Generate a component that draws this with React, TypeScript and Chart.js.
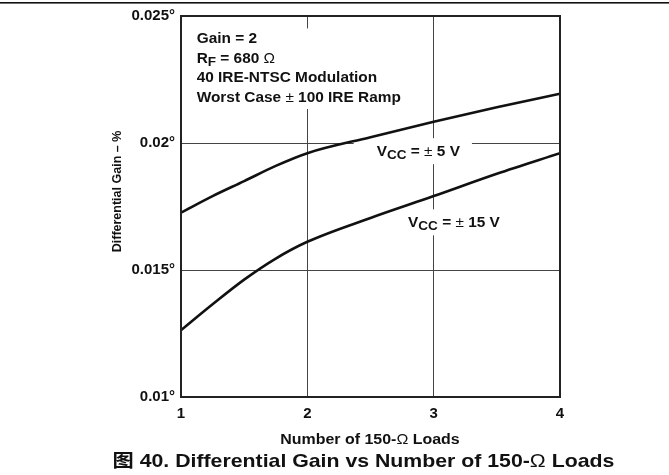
import React, { useEffect, useRef } from "react";
import { Chart, registerables } from "chart.js";

Chart.register(...registerables);

// ---- data ----
const loads = [1, 1.25, 1.5, 1.75, 2, 2.5, 3, 3.5, 4];
const gainVcc5 = [0.01726, 0.01791, 0.0185, 0.0191, 0.0196, 0.02023, 0.02084, 0.02141, 0.02194];
const gainVcc15 = [0.01263, 0.01365, 0.01462, 0.01545, 0.01611, 0.01705, 0.01791, 0.01879, 0.0196];

const xTickValues = [1, 2, 3, 4];
const xTickLabels = ["1", "2", "3", "4"];
const yTickValues = [0.01, 0.015, 0.02, 0.025];
const yTickLabels = ["0.01°", "0.015°", "0.02°", "0.025°"];

type Seg = { t: string; sub?: boolean; light?: boolean; cjk?: boolean };

const xTitle: Seg[] = [{ t: "Number of 150-" }, { t: "Ω", light: true }, { t: " Loads" }];
const yTitle = "Differential Gain – %";
const caption: Seg[] = [
  { t: "图", cjk: true },
  { t: " 40. Differential Gain vs Number of 150-" },
  { t: "Ω", light: true },
  { t: " Loads" },
];
const conditionLines: Seg[][] = [
  [{ t: "Gain = 2" }],
  [{ t: "R" }, { t: "F", sub: true }, { t: " = 680 " }, { t: "Ω", light: true }],
  [{ t: "40 IRE-NTSC Modulation" }],
  [{ t: "Worst Case " }, { t: "±", light: true }, { t: " 100 IRE Ramp" }],
];
const conditionAnchor = { x: 1.124, y: 0.02394 };
const seriesLabels: { segs: Seg[]; x: number; y: number }[] = [
  { segs: [{ t: "V" }, { t: "CC", sub: true }, { t: " = " }, { t: "±", light: true }, { t: " 5 V" }], x: 2.549, y: 0.0195 },
  { segs: [{ t: "V" }, { t: "CC", sub: true }, { t: " = " }, { t: "±", light: true }, { t: " 15 V" }], x: 2.797, y: 0.0167 },
];

const FAMILY = '"Liberation Sans", Arial, Helvetica, sans-serif';
const CJK = '"Noto Sans CJK SC", "Liberation Sans", sans-serif';
const INK = "#111";

function segFont(s: Seg, size: number) {
  const sz = s.sub ? size * 0.88 : size;
  const w = s.light ? "normal" : "bold";
  return `${w} ${sz}px ${s.cjk ? CJK : FAMILY}`;
}

function richWidth(ctx: CanvasRenderingContext2D, segs: Seg[], size: number, sx: number) {
  let w = 0;
  for (const s of segs) {
    ctx.font = segFont(s, size);
    w += ctx.measureText(s.t).width * sx;
  }
  return w;
}

function drawRich(ctx: CanvasRenderingContext2D, segs: Seg[], x: number, y: number, size: number, sx: number) {
  let cx = x;
  ctx.textAlign = "left";
  ctx.textBaseline = "alphabetic";
  ctx.fillStyle = INK;
  for (const s of segs) {
    ctx.font = segFont(s, size);
    const w = ctx.measureText(s.t).width;
    ctx.save();
    ctx.translate(cx, y + (s.sub ? size * 0.24 : 0));
    ctx.scale(sx, 1);
    ctx.fillText(s.t, 0, 0);
    ctx.restore();
    cx += w * sx;
  }
  return cx - x;
}

const ANN_SIZE = 14;
const ANN_SX = 1.1;
const LABEL_SIZE = 14;
const LINE_GAP = 19.7;

const decorPlugin = {
  id: "decor",
  beforeDatasetsDraw(chart: any) {
    const ctx: CanvasRenderingContext2D = chart.ctx;
    const xs = chart.scales.x;
    const ys = chart.scales.y;
    ctx.save();
    ctx.fillStyle = "#fff";
    // conditions box
    const ax = xs.getPixelForValue(conditionAnchor.x);
    const ay = ys.getPixelForValue(conditionAnchor.y);
    let maxW = 0;
    for (const line of conditionLines) maxW = Math.max(maxW, richWidth(ctx, line, ANN_SIZE, ANN_SX));
    ctx.fillRect(ax - 6, ay - 14.5, maxW + 12, LINE_GAP * 3 + 21.5);
    // series label boxes
    for (const l of seriesLabels) {
      const lx = xs.getPixelForValue(l.x);
      const ly = ys.getPixelForValue(l.y);
      const w = richWidth(ctx, l.segs, LABEL_SIZE, ANN_SX);
      ctx.fillRect(lx - 23, ly - 17.5, w + 35, 26);
    }
    ctx.restore();
  },
  afterDraw(chart: any) {
    const ctx: CanvasRenderingContext2D = chart.ctx;
    const xs = chart.scales.x;
    const ys = chart.scales.y;
    const a = chart.chartArea;
    ctx.save();
    // plot frame
    ctx.strokeStyle = "#222";
    ctx.lineWidth = 2;
    ctx.strokeRect(a.left, a.top, a.right - a.left, a.bottom - a.top);
    // top rule
    ctx.fillStyle = "#111";
    ctx.fillRect(0, 2, chart.width, 1.6);

    // conditions text
    const ax = xs.getPixelForValue(conditionAnchor.x);
    const ay = ys.getPixelForValue(conditionAnchor.y);
    conditionLines.forEach((line, i) => drawRich(ctx, line, ax, ay + i * LINE_GAP, ANN_SIZE, ANN_SX));
    // series labels
    for (const l of seriesLabels) {
      drawRich(ctx, l.segs, xs.getPixelForValue(l.x), ys.getPixelForValue(l.y), LABEL_SIZE, ANN_SX);
    }
    // y title
    ctx.save();
    ctx.translate(118, (a.top + a.bottom) / 2 - 15);
    ctx.rotate(-Math.PI / 2);
    ctx.font = `bold 12.5px ${FAMILY}`;
    ctx.fillStyle = INK;
    ctx.textAlign = "center";
    ctx.textBaseline = "middle";
    ctx.fillText(yTitle, 0, 0);
    ctx.restore();
    // x title
    const xtW = richWidth(ctx, xTitle, 14.5, 1.1);
    drawRich(ctx, xTitle, 370 - xtW / 2, 444, 14.5, 1.1);
    // caption
    drawRich(ctx, caption, 112.5, 467, 18.5, 1.15);
    ctx.restore();
  },
};

export default function App() {
  const ref = useRef<HTMLCanvasElement | null>(null);
  useEffect(() => {
    document.body.style.margin = "0";
    const canvas = ref.current!;
    const lineStyle = {
      borderColor: INK,
      borderWidth: 2.6,
      pointRadius: 0,
      fill: false,
      cubicInterpolationMode: "monotone" as const,
    };
    const chart = new Chart(canvas, {
      type: "line",
      data: {
        datasets: [
          { label: "VCC = ±5 V", data: loads.map((x, i) => ({ x, y: gainVcc5[i] })), ...lineStyle },
          { label: "VCC = ±15 V", data: loads.map((x, i) => ({ x, y: gainVcc15[i] })), ...lineStyle },
        ],
      },
      options: {
        animation: false,
        responsive: false,
        devicePixelRatio: 1,
        layout: { padding: { left: 0, top: 16, right: 109, bottom: 0 } },
        plugins: { legend: { display: false }, tooltip: { enabled: false } },
        scales: {
          x: {
            type: "linear",
            min: 1,
            max: 4,
            afterBuildTicks: (s: any) => {
              s.ticks = xTickValues.map((v) => ({ value: v }));
            },
            afterFit: (s: any) => {
              s.height = 78;
            },
            ticks: {
              padding: 8,
              color: INK,
              font: { family: FAMILY, size: 15, weight: "bold" },
              callback: (v: any) => xTickLabels[xTickValues.indexOf(Number(v))] ?? "",
              maxRotation: 0,
            },
            grid: { color: "#444", lineWidth: 1, drawTicks: false },
            border: { display: false },
          },
          y: {
            type: "linear",
            min: 0.01,
            max: 0.025,
            afterBuildTicks: (s: any) => {
              s.ticks = yTickValues.map((v) => ({ value: v }));
            },
            afterFit: (s: any) => {
              s.width = 181;
            },
            ticks: {
              padding: 6,
              color: INK,
              font: { family: FAMILY, size: 15, weight: "bold" },
              callback: (v: any) => {
                const i = yTickValues.findIndex((t) => Math.abs(t - Number(v)) < 1e-9);
                return i >= 0 ? yTickLabels[i] : "";
              },
            },
            grid: { color: "#444", lineWidth: 1, drawTicks: false },
            border: { display: false },
          },
        },
      },
      plugins: [decorPlugin],
    } as any);
    return () => chart.destroy();
  }, []);
  return (
    <div style={{ position: "fixed", left: 0, top: 0, width: 669, height: 475, background: "#fff" }}>
      <canvas ref={ref} width={669} height={475} style={{ display: "block" }} />
    </div>
  );
}
